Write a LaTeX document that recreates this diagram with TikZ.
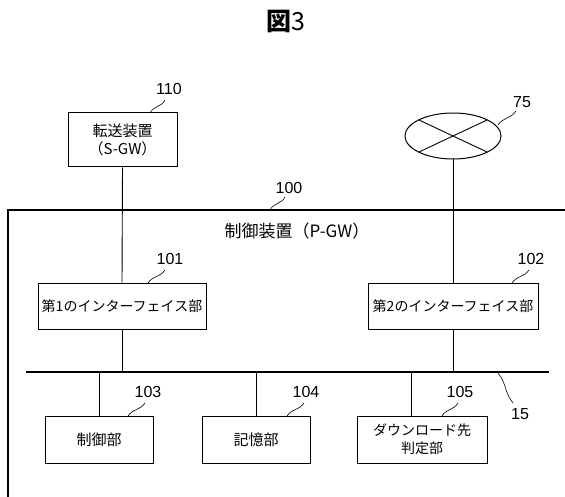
\documentclass[tikz,border=0pt]{standalone}
\usepackage{fontspec}
\setmainfont{Noto Sans CJK JP}
\newfontfamily\numfont{Liberation Sans}
\usetikzlibrary{shapes.geometric,calc}
\begin{document}
\begin{tikzpicture}[x=1pt,y=-1pt,
  unit/.style={draw,line width=1pt,minimum height=46pt,inner sep=0pt,align=center,font=\fontsize{14}{18}\selectfont},
  lab/.style={inner sep=0pt,font=\numfont\fontsize{16}{16}\selectfont},
  conn/.style={line width=0.9pt},
  sq/.style={line width=0.6pt}]
\useasboundingbox (0,0) rectangle (565,497);
\newcommand{\squig}[2]{\draw[sq] (#1) .. controls ($(#1)!0.4!(#2)!3pt!90:(#2)$) and ($(#1)!0.6!(#2)!3pt!-90:(#2)$) .. (#2);}
% title
\node[inner sep=0pt,font=\fontsize{25}{25}\selectfont] (title) at (285.5,21.5) {{\bfseries 図}3};
% top devices
\node[unit,minimum width=109pt,minimum height=54pt,font=\fontsize{15}{18}\selectfont] (sgw) at (122.5,140) {転送装置\\（S-GW）};
\node[draw,ellipse,line width=1pt,minimum width=96pt,minimum height=46pt,inner sep=0pt] (net) at (453,136) {};
\draw[conn] ([shift={(-34,-16)}]net.center) -- ([shift={(34,16)}]net.center);
\draw[conn] ([shift={(-34,16)}]net.center) -- ([shift={(34,-16)}]net.center);
% container 100
\coordinate (cTL) at (8,210);
\coordinate (cTR) at (566,210);
\coordinate (cBL) at (8,498);
\draw[line width=1.2pt] (cTR) -- (cTL) -- (cBL);
\node[inner sep=0pt,font=\fontsize{17}{17}\selectfont] (pgw) at (297,231) {制御装置（P-GW）};
% interfaces
\node[unit,minimum width=168pt] (if1) at (122,306) {第1のインターフェイス部};
\node[unit,minimum width=170pt] (if2) at (453,306) {第2のインターフェイス部};
% bus
\coordinate (busL) at (26,372);
\coordinate (busR) at (549,372);
\draw[line width=2.6pt] (busL) -- (busR);
% lower units
\node[unit,minimum width=108pt,minimum height=47pt,font=\fontsize{15}{18}\selectfont] (ctl) at (99,439.5) {制御部};
\node[unit,minimum width=108pt,minimum height=47pt,font=\fontsize{15}{18}\selectfont] (mem) at (256,439.5) {記憶部};
\node[unit,minimum width=130pt,minimum height=47pt] (dl) at (422,439.5) {ダウンロード先\\判定部};
% connectors
\draw[conn] (sgw.south) -- (if1.north);
\draw[conn] (net.south) -- (if2.north);
\draw[conn] (if1.south) -- (if1.south |- busL);
\draw[conn] (if2.south) -- (if2.south |- busL);
\draw[conn] (ctl.north) -- (ctl.north |- busL);
\draw[conn] (mem.north) -- (mem.north |- busL);
\coordinate (dltop) at (411,416);
\draw[conn] (dltop) -- (dltop |- busL);
% labels
\node[lab] (l110) at (169,89) {110};
\node[lab] (l75) at (522,102) {75};
\node[lab] (l100) at (289,188) {100};
\node[lab] (l101) at (170,259) {101};
\node[lab] (l102) at (531,259) {102};
\node[lab] (l103) at (148,392) {103};
\node[lab] (l104) at (306,392) {104};
\node[lab] (l105) at (460,392) {105};
\node[lab] (l15) at (520,414) {15};
% leader squiggles
\coordinate (s110) at (150,113); \coordinate (e110) at (165,100);
\coordinate (s75) at (498,125); \coordinate (e75) at (516,111);
\coordinate (s100) at (270,210); \coordinate (e100) at (285,197);
\coordinate (s101) at (148,283); \coordinate (e101) at (165,270);
\coordinate (s102) at (512,283); \coordinate (e102) at (529,270);
\coordinate (s103) at (128,416); \coordinate (e103) at (145,403);
\coordinate (s104) at (287,416); \coordinate (e104) at (304,403);
\coordinate (s105) at (442,416); \coordinate (e105) at (458,403);
\coordinate (s15) at (498,373); \coordinate (e15) at (513,403);
\squig{s110}{e110}
\squig{s75}{e75}
\squig{s100}{e100}
\squig{s101}{e101}
\squig{s102}{e102}
\squig{s103}{e103}
\squig{s104}{e104}
\squig{s105}{e105}
\squig{s15}{e15}
\end{tikzpicture}
\end{document}
